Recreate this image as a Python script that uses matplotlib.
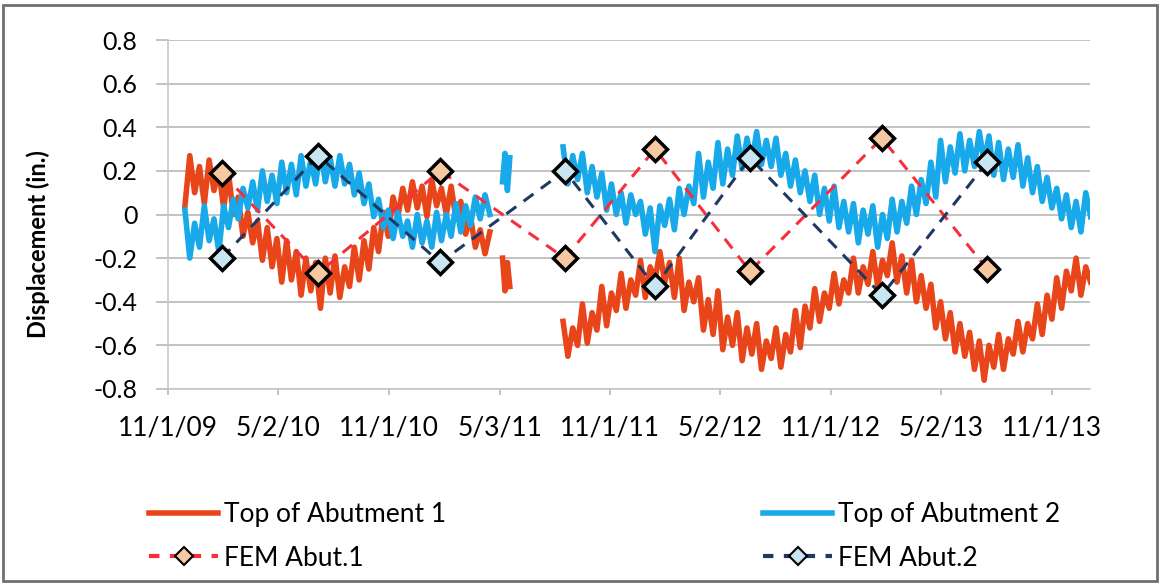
import pandas as pd
import matplotlib
matplotlib.use("Agg")
import matplotlib.pyplot as plt
from matplotlib.patches import Rectangle

plt.rcParams['font.family'] = ['Lato', 'DejaVu Sans']

# measured displacement (in.), one reading every 8 days
SEG1_START = "2009-11-29"
SEG2_START = "2011-08-16"
SHORT_START = "2011-05-08"

abut1_seg1 = [0.04, 0.27, 0.10, 0.22, 0.05, 0.25, 0.11, 0.20, 0.03, 0.19,
              0.00, 0.08, -0.10, 0.01, -0.13, -0.03, -0.21, -0.06, -0.24, -0.11,
              -0.31, -0.12, -0.30, -0.17, -0.37, -0.20, -0.35, -0.22, -0.43, -0.20,
              -0.36, -0.19, -0.38, -0.24, -0.33, -0.15, -0.30, -0.12, -0.25, -0.06,
              -0.17, 0.01, -0.10, 0.08, -0.01, 0.12, 0.02, 0.15, 0.03, 0.13,
              -0.01, 0.16, 0.04, 0.12, 0.00, 0.13, -0.02, 0.06, -0.09, -0.01,
              -0.15, -0.07, -0.18, -0.08]
abut1_short = [-0.20, -0.35, -0.22, -0.33]
abut1_seg2 = [-0.49, -0.65, -0.52, -0.60, -0.41, -0.59, -0.45, -0.53, -0.33, -0.51,
              -0.36, -0.44, -0.27, -0.43, -0.30, -0.37, -0.21, -0.38, -0.24, -0.30,
              -0.17, -0.31, -0.22, -0.38, -0.20, -0.44, -0.31, -0.40, -0.29, -0.53,
              -0.39, -0.55, -0.35, -0.62, -0.47, -0.60, -0.45, -0.67, -0.52, -0.64,
              -0.50, -0.71, -0.58, -0.66, -0.52, -0.70, -0.55, -0.63, -0.44, -0.61,
              -0.42, -0.52, -0.34, -0.49, -0.36, -0.43, -0.27, -0.41, -0.30, -0.36,
              -0.20, -0.36, -0.24, -0.32, -0.17, -0.33, -0.21, -0.28, -0.13, -0.31,
              -0.19, -0.36, -0.21, -0.40, -0.28, -0.43, -0.32, -0.52, -0.40, -0.57,
              -0.45, -0.63, -0.50, -0.65, -0.54, -0.71, -0.58, -0.76, -0.60, -0.70,
              -0.55, -0.71, -0.57, -0.64, -0.49, -0.63, -0.50, -0.57, -0.41, -0.55,
              -0.37, -0.48, -0.29, -0.43, -0.26, -0.35, -0.20, -0.37, -0.24, -0.31]

abut2_seg1 = [0.02, -0.20, -0.04, -0.15, 0.04, -0.12, -0.02, -0.17, 0.04, -0.06,
              0.07, -0.02, 0.12, 0.03, 0.15, 0.02, 0.20, 0.06, 0.18, 0.05,
              0.24, 0.10, 0.23, 0.09, 0.27, 0.13, 0.25, 0.14, 0.30, 0.15,
              0.26, 0.13, 0.27, 0.14, 0.23, 0.09, 0.19, 0.05, 0.14, -0.01,
              0.07, -0.06, 0.02, -0.11, 0.01, -0.10, -0.03, -0.15, 0.00, -0.13,
              -0.03, -0.15, 0.01, -0.12, 0.00, -0.10, 0.05, -0.08, 0.04, -0.05,
              0.08, -0.02, 0.09, 0.00]
abut2_short = [0.15, 0.28, 0.11, 0.26]
abut2_seg2 = [0.31, 0.14, 0.27, 0.16, 0.28, 0.10, 0.22, 0.08, 0.19, 0.02,
              0.14, 0.00, 0.10, -0.04, 0.09, 0.00, 0.06, -0.09, 0.03, -0.17,
              0.04, -0.05, 0.07, -0.07, 0.12, 0.00, 0.13, 0.05, 0.28, 0.08,
              0.24, 0.12, 0.33, 0.14, 0.30, 0.18, 0.36, 0.21, 0.35, 0.24,
              0.38, 0.23, 0.34, 0.22, 0.35, 0.18, 0.28, 0.13, 0.25, 0.10,
              0.20, 0.06, 0.18, 0.00, 0.12, -0.03, 0.13, -0.06, 0.06, -0.08,
              0.05, -0.13, 0.02, -0.09, 0.04, -0.15, 0.00, -0.11, 0.07, -0.08,
              0.06, -0.04, 0.13, 0.00, 0.16, 0.05, 0.24, 0.08, 0.34, 0.15,
              0.31, 0.19, 0.37, 0.20, 0.34, 0.22, 0.38, 0.24, 0.36, 0.18,
              0.33, 0.16, 0.30, 0.17, 0.32, 0.13, 0.26, 0.10, 0.22, 0.06,
              0.17, 0.03, 0.12, -0.02, 0.09, -0.06, 0.06, -0.08, 0.10, -0.01]

# FEM predictions
fem_dates = pd.to_datetime(["2010-01-29", "2010-07-07", "2011-01-25", "2011-08-19",
                            "2012-01-15", "2012-06-20", "2013-01-24", "2013-07-17"])
fem_abut1 = [0.19, -0.27, 0.20, -0.20, 0.30, -0.26, 0.35, -0.25]
fem_abut2 = [-0.20, 0.27, -0.22, 0.20, -0.33, 0.26, -0.37, 0.24]

tick_dates = pd.to_datetime(["2009-11-01", "2010-05-02", "2010-11-01", "2011-05-03",
                             "2011-11-01", "2012-05-02", "2012-11-01", "2013-05-02",
                             "2013-11-01"])
tick_labels = ["11/1/09", "5/2/10", "11/1/10", "5/3/11", "11/1/11", "5/2/12",
               "11/1/12", "5/2/13", "11/1/13"]

c_abut1 = "#E8461A"
c_abut2 = "#17A9EA"
c_fem1 = "#F5303C"
c_fem2 = "#1F3864"

fig = plt.figure(figsize=(11.6, 5.84), dpi=100)
ax = fig.add_axes([168 / 1160, 1 - 389 / 584, 922 / 1160, 349 / 584])

d1 = pd.date_range(SEG1_START, periods=len(abut1_seg1), freq="8D")
d2 = pd.date_range(SEG2_START, periods=len(abut1_seg2), freq="8D")
ds = pd.date_range(SHORT_START, periods=len(abut1_short), freq="4D")

for d, v in [(d1, abut1_seg1), (ds, abut1_short), (d2, abut1_seg2)]:
    ax.plot(d, v, color=c_abut1, lw=4, zorder=2)
for d, v in [(d1, abut2_seg1), (ds, abut2_short), (d2, abut2_seg2)]:
    ax.plot(d, v, color=c_abut2, lw=4, zorder=3)

ax.plot(fem_dates, fem_abut1, color=c_fem1, lw=2.2, dashes=(4, 3),
        marker="D", markersize=12, markerfacecolor="#F7C9A0",
        markeredgecolor="black", markeredgewidth=2.5, zorder=4)
ax.plot(fem_dates, fem_abut2, color=c_fem2, lw=2.2, dashes=(4, 3),
        marker="D", markersize=12, markerfacecolor="#C8E6F2",
        markeredgecolor="black", markeredgewidth=2.5, zorder=4)

ax.set_ylim(-0.8, 0.8)
ax.set_yticks([-0.8, -0.6, -0.4, -0.2, 0, 0.2, 0.4, 0.6, 0.8])
ax.set_yticklabels(["-0.8", "-0.6", "-0.4", "-0.2", "0", "0.2", "0.4", "0.6", "0.8"])
ax.set_xlim(pd.Timestamp("2009-11-01"), pd.Timestamp("2014-01-03"))
ax.set_xticks(tick_dates)
ax.set_xticklabels(tick_labels)

ax.grid(axis="y", color="#B8B8B8", lw=1.2)
ax.set_axisbelow(True)
for s in ["top", "right"]:
    ax.spines[s].set_visible(False)
for s in ["bottom", "left"]:
    ax.spines[s].set_color("#C8C8C8")
    ax.spines[s].set_linewidth(1.2)
ax.tick_params(axis="y", length=9, width=1.2, color="#B8B8B8", pad=13, labelsize=18)
ax.tick_params(axis="x", length=4, width=1.2, color="#B8B8B8", pad=15, labelsize=19)
ax.set_ylabel("Displacement (in.)", fontsize=17, fontweight="bold")
ax.yaxis.set_label_coords(-0.128, 0.415)

h1, = ax.plot([], [], color=c_abut1, lw=4)
h2, = ax.plot([], [], color=c_abut2, lw=4)
h3, = ax.plot([], [], color=c_fem1, lw=3, dashes=(2.5, 2.5), marker="D",
              markersize=9, markerfacecolor="#F7C9A0", markeredgecolor="black",
              markeredgewidth=1.5)
h4, = ax.plot([], [], color=c_fem2, lw=3, dashes=(2.5, 2.5), marker="D",
              markersize=9, markerfacecolor="#C8E6F2", markeredgecolor="black",
              markeredgewidth=1.5)
fig.legend([h1, h3, h2, h4],
           ["Top of Abutment 1", "FEM Abut.1", "Top of Abutment 2", "FEM Abut.2"],
           loc="upper left", bbox_to_anchor=(136 / 1160, 1 - 489 / 584),
           ncol=2, frameon=False, fontsize=19, handlelength=2.6, borderpad=0,
           handletextpad=0.25, columnspacing=12.0, labelspacing=0.7)

fig.patches.append(Rectangle((3 / 1160, 3 / 584), 1154 / 1160, 576 / 584,
                             transform=fig.transFigure, fill=False,
                             edgecolor="#707070", lw=2))

fig.savefig("out.png", dpi=100)
